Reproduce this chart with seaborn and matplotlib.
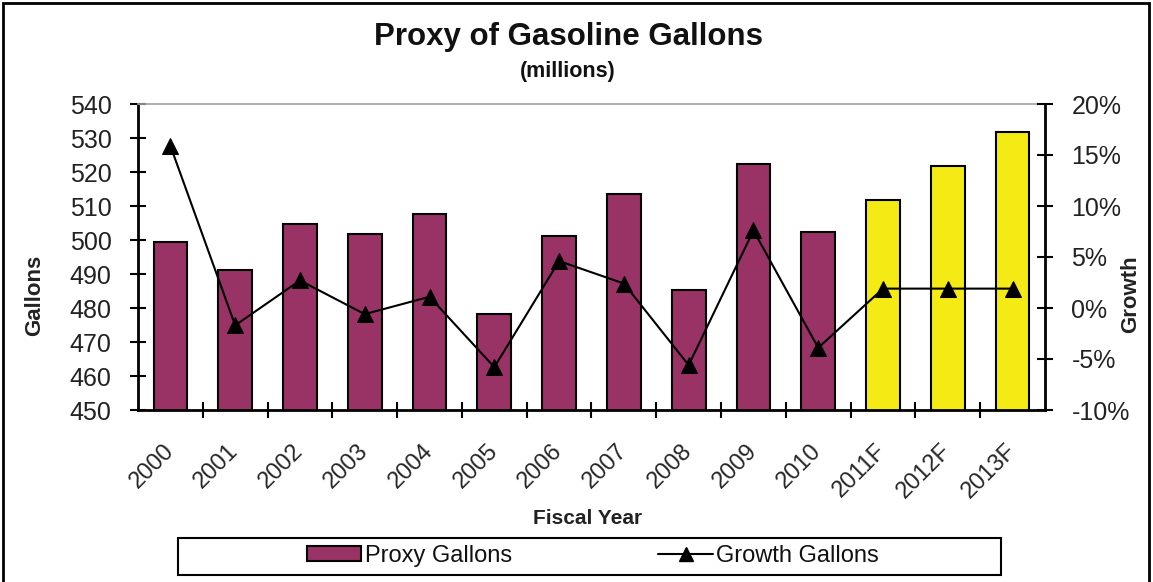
import numpy as np
import pandas as pd
import matplotlib
matplotlib.use("Agg")
import matplotlib.pyplot as plt
from matplotlib.patches import Rectangle, Patch
from matplotlib.lines import Line2D
from matplotlib.ticker import FuncFormatter, MultipleLocator
import seaborn as sns

# Fiscal years (actuals + forecasts)
years = ["2000", "2001", "2002", "2003", "2004", "2005", "2006",
         "2007", "2008", "2009", "2010", "2011F", "2012F", "2013F"]
# Proxy gallons, millions
proxy_gallons = [499.5, 491.3, 504.8, 501.9, 507.7, 478.2, 501.2,
                 513.5, 485.4, 522.4, 502.3, 511.8, 521.8, 531.8]
# Year-over-year growth, percent
growth_pct = [15.9, -1.7, 2.7, -0.6, 1.1, -5.8, 4.6,
              2.4, -5.6, 7.6, -3.9, 1.9, 1.9, 1.9]
# Actual vs forecast flag
kind = ["Actual"] * 11 + ["Forecast"] * 3

MAROON = "#993366"
YELLOW = "#F5EB14"
W, H = 1153, 582

df = pd.DataFrame({"year": years, "gallons": proxy_gallons,
                   "growth": growth_pct, "kind": kind})

sns.set_theme(style="white")
plt.rcParams["font.family"] = ["Liberation Sans", "DejaVu Sans"]

fig = plt.figure(figsize=(W / 100, H / 100), dpi=100)
ax = fig.add_axes([138 / W, 1 - 410 / H, (1045 - 138) / W, (410 - 104) / H])

sns.barplot(data=df, x="year", y="gallons", hue="kind",
            palette={"Actual": MAROON, "Forecast": YELLOW},
            dodge=False, width=0.52, saturation=1, edgecolor="black",
            linewidth=1.5, legend=False, ax=ax)

ax.set_ylim(450, 540)
ax.set_xlim(-0.5, len(years) - 0.5)
ax.yaxis.set_major_locator(MultipleLocator(10))

# Axis titles
ax.set_xlabel("Fiscal Year", fontsize=15, fontweight="bold", color="#222222")
ax.xaxis.label.set_va("center")
ax.xaxis.set_label_coords((588 - 138) / 907, (410 - 518) / 306)
ax.set_ylabel("Gallons", fontsize=16, fontweight="bold", color="#222222")
ax.yaxis.label.set_va("center")
ax.yaxis.set_label_coords((35 - 138) / 907, (410 - 295) / 306)

# Category boundary ticks on the x axis, labels centered under bars
ax.set_xticks(np.arange(len(years)))
ax.set_xticklabels(years, rotation=45, ha="right", va="center",
                   rotation_mode="anchor", fontsize=17)
ax.set_xticks(np.arange(0.5, len(years) - 0.5, 1.0), minor=True)
ax.tick_params(axis="x", which="major", length=0, pad=27)
ax.tick_params(axis="x", which="minor", direction="inout", length=12,
               width=1.5, color="black", bottom=True)
ax.tick_params(axis="y", which="major", direction="inout", length=12,
               width=1.5, color="black", labelsize=18, pad=13, left=True,
               labelcolor="#222222")

for side in ["left", "bottom"]:
    ax.spines[side].set_color("black")
    ax.spines[side].set_linewidth(2)
ax.spines["top"].set_color("#A0A0A0")
ax.spines["top"].set_linewidth(1.2)
ax.spines["right"].set_visible(False)

# Growth on the secondary axis
ax2 = ax.twinx()
sns.lineplot(x=np.arange(len(years)), y=growth_pct, ax=ax2, color="black",
             linewidth=1.5, marker="^", markersize=11,
             markeredgecolor="black", markerfacecolor="black")
ax2.set_ylim(-10, 20)
ax2.set_xlim(-0.5, len(years) - 0.5)
ax2.yaxis.set_major_locator(MultipleLocator(5))
ax2.yaxis.set_major_formatter(FuncFormatter(lambda v, p: f"{v:.0f}%"))
ax2.set_ylabel("Growth", fontsize=16, fontweight="bold", color="#222222")
ax2.yaxis.label.set_va("center")
ax2.yaxis.set_label_coords((1131 - 138) / 907, (410 - 294) / 306)
ax2.tick_params(axis="y", which="major", direction="inout", length=12,
                width=1.5, color="black", labelsize=18, pad=13, right=True,
                labelcolor="#222222")
for side in ["left", "bottom", "top"]:
    ax2.spines[side].set_visible(False)
ax2.spines["right"].set_color("black")
ax2.spines["right"].set_linewidth(2)

# Titles
fig.text(569 / W, 1 - 37 / H, "Proxy of Gasoline Gallons", ha="center",
         va="center", fontsize=22.5, fontweight="bold", color="#111111")
fig.text(568 / W, 1 - 72 / H, "(millions)", ha="center", va="center",
         fontsize=15.5, fontweight="bold", color="#111111")

# Legend (frame drawn separately to span the chart width)
handles = [Patch(facecolor=MAROON, edgecolor="black", linewidth=1.5),
           Line2D([0], [0], color="black", linewidth=1.5, marker="^",
                  markersize=10, markerfacecolor="black")]
fig.legend(handles, ["Proxy Gallons", "Growth Gallons"], ncol=2,
           loc="center", bbox_to_anchor=(593 / W, 1 - 556 / H),
           fontsize=17, frameon=False, handlelength=2.3, handleheight=0.6,
           handletextpad=0.15, columnspacing=6.2, borderpad=0.2,
           labelcolor="#111111")
fig.patches.append(Rectangle((178 / W, 1 - 575 / H), 823 / W, 37 / H,
                             transform=fig.transFigure, fill=False,
                             edgecolor="black", linewidth=1.5))

# Outer chart frame
fig.patches.append(Rectangle((3 / W, -0.01), 1146 / W, 1 - 3 / H + 0.01,
                             transform=fig.transFigure, fill=False,
                             edgecolor="black", linewidth=2))

fig.savefig("out.png", dpi=100)
